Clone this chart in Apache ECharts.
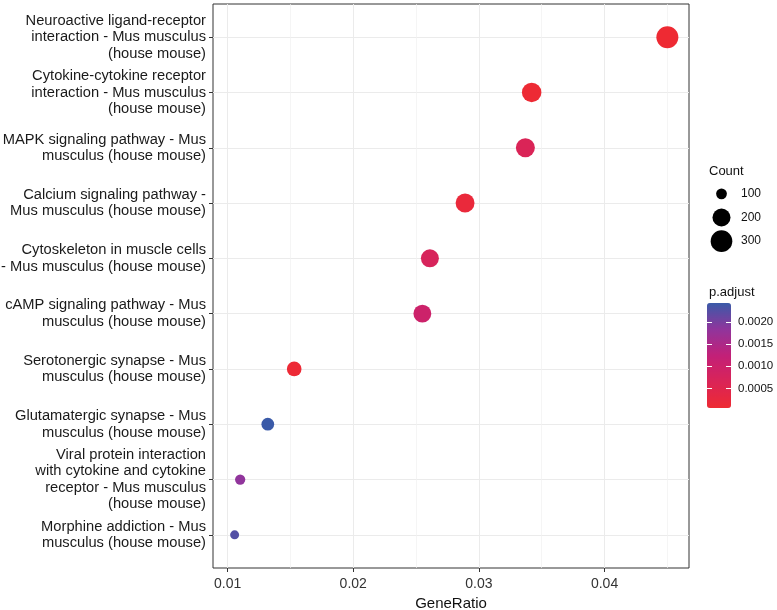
<!DOCTYPE html>
<html>
<head>
<meta charset="utf-8">
<script src="https://cdn.jsdelivr.net/npm/echarts@6/dist/echarts.min.js"></script>
<style>
  html, body { margin: 0; padding: 0; background: #fff; }
  #chart { width: 777px; height: 610px; }
</style>
</head>
<body>
<div id="chart"></div>
<script>
// pathways, top to bottom
const categories = [
  'Neuroactive ligand-receptor\ninteraction - Mus musculus\n(house mouse)',
  'Cytokine-cytokine receptor\ninteraction - Mus musculus\n(house mouse)',
  'MAPK signaling pathway - Mus\nmusculus (house mouse)',
  'Calcium signaling pathway -\nMus musculus (house mouse)',
  'Cytoskeleton in muscle cells\n- Mus musculus (house mouse)',
  'cAMP signaling pathway - Mus\nmusculus (house mouse)',
  'Serotonergic synapse - Mus\nmusculus (house mouse)',
  'Glutamatergic synapse - Mus\nmusculus (house mouse)',
  'Viral protein interaction\nwith cytokine and cytokine\nreceptor - Mus musculus\n(house mouse)',
  'Morphine addiction - Mus\nmusculus (house mouse)'
];
const geneRatio = [0.0450, 0.0342, 0.0337, 0.0289, 0.0261, 0.0255, 0.0153, 0.0132, 0.0110, 0.01056];
const counts = [312, 237, 224, 222, 199, 196, 137, 114, 98, 96];
const pAdjust = [0.000056, 0.00008, 0.00065, 0.00018, 0.00072, 0.00100, 0.00010, 0.00243, 0.00183, 0.00226];

const xTicks = [0.01, 0.02, 0.03, 0.04];
const xMinorTicks = [0.015, 0.025, 0.035, 0.045];
const countTicks = [100, 200, 300];
const pTicks = [0.0005, 0.0010, 0.0015, 0.0020];

// ggplot-like scales
const cMin = Math.min(...counts), cMax = Math.max(...counts);
const pMin = Math.min(...pAdjust), pMax = Math.max(...pAdjust);
const gMin = Math.min(...geneRatio), gMax = Math.max(...geneRatio);
const xPad = (gMax - gMin) * 0.05;
const catIdx = categories.map((_, i) => i);

function dotSize(c) {
  const t = Math.max(0, (c - cMin) / (cMax - cMin));
  return 9 + 13 * Math.sqrt(t);
}

const pointData = categories.map((_, i) => [geneRatio[i], i, counts[i], pAdjust[i]]);
const legendData = countTicks.map((c, i) => [0, i, c]);

const font = 'Liberation Sans, Arial, sans-serif';
const chart = echarts.init(document.getElementById('chart'));

chart.setOption({
  backgroundColor: '#fff',
  animation: false,
  textStyle: { fontFamily: font },
  title: [
    { text: 'Count', left: 709, top: 165, padding: 0,
      textStyle: { fontSize: 13, fontWeight: 'normal', color: '#111', fontFamily: font } },
    { text: 'p.adjust', left: 709, top: 286, padding: 0,
      textStyle: { fontSize: 13, fontWeight: 'normal', color: '#111', fontFamily: font } }
  ],
  grid: [
    { left: 213, right: 88, top: 4, bottom: 42, show: true, borderColor: '#333', borderWidth: 1,
      backgroundColor: '#fff', z: 0, outerBoundsMode: 'none' },
    { left: 710, top: 182, width: 23, height: 71, outerBoundsMode: 'none' },
    { left: 707, top: 303, width: 24, height: 105, outerBoundsMode: 'none' }
  ],
  xAxis: [
    {
      type: 'value', gridIndex: 0, min: gMin - xPad, max: gMax + xPad,
      axisLine: { show: false, onZero: false },
      axisTick: { show: true, length: 4, lineStyle: { color: '#333' }, customValues: xTicks },
      axisLabel: { customValues: xTicks, fontSize: 14, color: '#333', margin: 9, formatter: v => v.toFixed(2) },
      splitLine: { show: true, lineStyle: { color: '#EBEBEB', width: 1 } },
      name: 'GeneRatio', nameLocation: 'middle', nameGap: 23,
      nameTextStyle: { fontSize: 15, color: '#111' }
    },
    {
      type: 'value', gridIndex: 0, min: gMin - xPad, max: gMax + xPad, position: 'top',
      axisLine: { show: false, onZero: false },
      axisTick: { show: false, customValues: xMinorTicks },
      axisLabel: { show: false, customValues: xMinorTicks },
      splitLine: { show: true, lineStyle: { color: '#F0F0F0', width: 0.7 } }
    },
    { type: 'value', gridIndex: 1, min: -1, max: 1, show: false },
    { type: 'value', gridIndex: 2, min: 0, max: 1, show: false }
  ],
  yAxis: [
    {
      type: 'value', gridIndex: 0, min: -0.6, max: 9.6, inverse: true,
      axisLine: { show: false, onZero: false },
      axisTick: { show: true, length: 4, lineStyle: { color: '#333' }, customValues: catIdx },
      axisLabel: {
        customValues: catIdx, fontSize: 14.7, color: '#1a1a1a', margin: 7,
        lineHeight: 16.5, align: 'right',
        formatter: v => categories[Math.round(v)]
      },
      splitLine: { show: true, lineStyle: { color: '#EBEBEB', width: 1 } }
    },
    {
      type: 'category', gridIndex: 1, data: countTicks.map(String), position: 'right', inverse: true,
      axisLine: { show: false, onZero: false }, axisTick: { show: false }, splitLine: { show: false },
      axisLabel: { fontSize: 12, color: '#111', margin: 8 }
    },
    {
      type: 'value', gridIndex: 2, min: pMin, max: pMax, position: 'right', z: 10,
      axisLine: { show: false, onZero: false },
      axisTick: { show: true, inside: true, length: 5, lineStyle: { color: '#fff', width: 1 }, customValues: pTicks },
      axisLabel: { customValues: pTicks, fontSize: 11.5, color: '#111', margin: 7, formatter: v => v.toFixed(4) },
      splitLine: { show: false }
    },
    {
      type: 'value', gridIndex: 2, min: pMin, max: pMax, position: 'left', z: 10,
      axisLine: { show: false, onZero: false },
      axisTick: { show: true, inside: true, length: 5, lineStyle: { color: '#fff', width: 1 }, customValues: pTicks },
      axisLabel: { show: false, customValues: pTicks },
      splitLine: { show: false }
    }
  ],
  visualMap: {
    type: 'continuous', seriesIndex: 0, dimension: 3,
    min: pMin, max: pMax, calculable: false, realtime: false,
    left: 707, top: 303, itemWidth: 24, itemHeight: 105, padding: 0,
    text: null, showLabel: false, hoverLink: false,
    inRange: { color: ['#EE2A33', '#DA2457', '#C22078', '#90359C', '#3A5AA8'] },
    z: 4
  },
  series: [
    {
      type: 'scatter', xAxisIndex: 0, yAxisIndex: 0, data: pointData,
      symbolSize: d => dotSize(d[2]), itemStyle: { opacity: 1 }, z: 3
    },
    {
      type: 'scatter', xAxisIndex: 2, yAxisIndex: 1, data: legendData,
      symbolSize: d => dotSize(d[2]), itemStyle: { color: '#000', opacity: 1 }
    }
  ]
});
</script>
</body>
</html>
